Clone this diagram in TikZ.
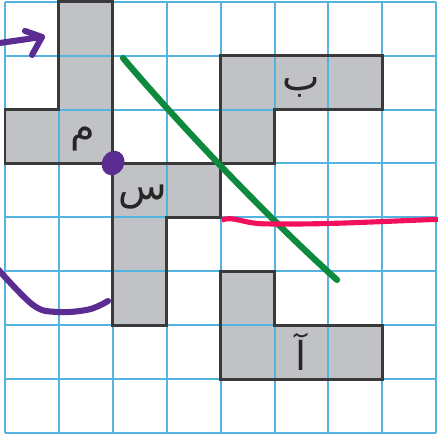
\documentclass[tikz,border=0pt]{standalone}
\usepackage{fontspec}
\newfontfamily\arabicfont[Script=Arabic]{DejaVu Sans}
\TeXXeTstate=1
\definecolor{gridBlue}{HTML}{55B4DF}
\definecolor{tileGray}{HTML}{C1C2C6}
\definecolor{tileEdge}{HTML}{3A3A3A}
\definecolor{penPurple}{HTML}{5B2C91}
\definecolor{penGreen}{HTML}{0D8A3D}
\definecolor{penPink}{HTML}{F2105C}

\begin{document}
\begin{tikzpicture}[x=1cm,y=1cm,
  tile/.style={fill=tileGray,draw=none},
  tileline/.style={draw=tileEdge,line width=1.5pt,line join=miter},
  letter/.style={font=\arabicfont\fontsize{21}{24}\selectfont,text=black!85,inner sep=0pt},
  purplepen/.style={draw=penPurple,line width=3.2pt,line cap=round,line join=round}]
  \useasboundingbox (-0.093,-0.074) rectangle (8.033,8.033);
  \fill[white] (-0.093,-0.074) rectangle (8.033,8.033);
  % четыре фигуры
  \path[tile] (1,8) -- (2,8) -- (2,5) -- (0,5) -- (0,6) -- (1,6) -- cycle;
  \path[tile] (2,5) -- (4,5) -- (4,4) -- (3,4) -- (3,2) -- (2,2) -- cycle;
  \path[tile] (4,7) -- (7,7) -- (7,6) -- (5,6) -- (5,5) -- (4,5) -- cycle;
  \path[tile] (4,3) -- (5,3) -- (5,2) -- (7,2) -- (7,1) -- (4,1) -- cycle;
  \draw[gridBlue,line width=1.05pt] (0,0) grid (8,8);
  \draw[tileline] (1,8) -- (2,8) -- (2,5) -- (0,5) -- (0,6) -- (1,6) -- cycle;
  \draw[tileline] (2,5) -- (4,5) -- (4,4) -- (3,4) -- (3,2) -- (2,2) -- cycle;
  \draw[tileline] (4,7) -- (7,7) -- (7,6) -- (5,6) -- (5,5) -- (4,5) -- cycle;
  \draw[tileline] (4,3) -- (5,3) -- (5,2) -- (7,2) -- (7,1) -- (4,1) -- cycle;
  \node[letter] (labMim) at (1.45,5.45) {\beginR م\endR};
  \node[letter] (labSin) at (2.55,4.38) {\beginR س\endR};
  \node[letter] (labBe) at (5.5,6.42) {\beginR ب\endR};
  \node[letter] (labAlef) at (5.5,1.5) {\beginR آ\endR};
  % пометки от руки
  \coordinate (arrowStart) at (-0.093,7.236);
  \coordinate (arrowTip) at (0.686,7.347);
  \draw[purplepen] (arrowStart) -- (arrowTip);
  \draw[purplepen] (0.371,7.458) -- (arrowTip) -- (0.501,7.013);
  \fill[penPurple,rotate around={-30:(2.004,5.009)}] (2.004,5.009) ellipse (0.205 and 0.235);
  \draw[purplepen] plot[smooth,tension=0.6] coordinates
    {(-0.15,3.06) (0.519,2.375) (0.965,2.245) (1.55,2.29) (1.911,2.449)};
  \coordinate (greenStart) at (2.189,6.957);
  \coordinate (greenEnd) at (6.16,2.839);
  \draw[draw=penGreen,line width=3.3pt,line cap=round]
    (greenStart) .. controls (3.0,6.0) and (4.6,4.25) .. (greenEnd);
  \coordinate (pinkStart) at (4.02,3.952);
  \coordinate (pinkEnd) at (8.1,3.965);
  \draw[draw=penPink,line width=2.7pt]
    (pinkStart) .. controls (4.25,4.03) and (4.4,3.89) .. (4.8,3.88)
    .. controls (6,3.86) and (7,3.93) .. (pinkEnd);
\end{tikzpicture}
\end{document}
